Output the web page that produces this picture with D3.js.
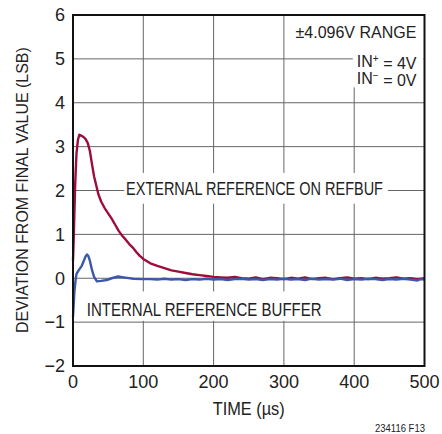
<!DOCTYPE html>
<html>
<head>
<meta charset="utf-8">
<script src="https://cdn.jsdelivr.net/npm/d3@7"></script>
<style>
  body { margin: 0; background: #fff; }
  svg text { font-family: "Liberation Sans", Arial, sans-serif; fill: #222; }
</style>
</head>
<body>
<div id="chart"></div>
<script>
// time axis (µs) and tick labels
var xTicks = [0, 100, 200, 300, 400, 500];
var yTicks = [-2, -1, 0, 1, 2, 3, 4, 5, 6];

// external reference on REFBUF (red trace)
var extTime = [0, 1, 2, 3, 4, 5, 7, 9, 12, 15, 18, 21, 24, 27, 30, 33, 36, 40, 45, 50, 55, 60, 65, 70, 75, 80, 85, 90, 95, 100,
  110, 120, 130, 140, 150, 160, 170, 180, 190, 200,
  210, 220, 230, 240, 250, 260, 270, 280, 290, 300, 310, 320, 330, 340, 350, 360, 370, 380, 390, 400,
  410, 420, 430, 440, 450, 460, 470, 480, 490, 500];
var extValue = [0.4, 0.9, 1.5, 2.1, 2.5, 2.85, 3.15, 3.27, 3.25, 3.22, 3.17, 3.08, 2.9, 2.6, 2.32, 2.12, 1.92, 1.75, 1.6, 1.48, 1.36, 1.22, 1.08, 0.97, 0.88, 0.78, 0.7, 0.6, 0.51, 0.44,
  0.34, 0.28, 0.23, 0.18, 0.15, 0.12, 0.09, 0.07, 0.05, 0.03,
  0.02, 0.01, 0.03, 0.0, -0.01, 0.02, -0.02, 0.01, 0.0, -0.02, 0.01, -0.01, 0.02, -0.02, 0.0, 0.01, -0.02, 0.0, 0.02, -0.01,
  0.0, -0.02, 0.01, -0.01, 0.0, 0.02, -0.01, 0.0, -0.02, 0.0];

// internal reference buffer (blue trace)
var intTime = [0, 2, 4, 5, 8, 12, 15, 18, 20, 22, 24, 27, 30, 34, 40, 48, 55, 64, 72, 86, 100,
  110, 120, 130, 140, 150, 160, 170, 180, 190, 200, 210, 220, 230, 240, 250, 260, 270, 280, 290, 300,
  310, 320, 330, 340, 350, 360, 370, 380, 390, 400, 410, 420, 430, 440, 450, 460, 470, 480, 490, 495, 500];
var intValue = [-0.88, -0.3, 0.0, 0.1, 0.18, 0.27, 0.38, 0.5, 0.54, 0.5, 0.4, 0.19, 0.03, -0.07, -0.06, -0.04, 0.0, 0.04, 0.02, -0.01, -0.02,
  -0.02, -0.03, -0.01, -0.03, -0.02, -0.04, -0.02, -0.03, -0.01, -0.03, -0.02, -0.04, -0.02, -0.01, -0.03, -0.02, -0.04, -0.02, -0.03, -0.01,
  -0.03, -0.02, -0.04, -0.01, -0.03, -0.02, -0.03, -0.01, -0.04, -0.02, -0.03, -0.01, -0.02, -0.04, -0.02, -0.03, -0.01, -0.03, -0.05, -0.02, -0.03];

var margin = { top: 15, right: 17.5, bottom: 68, left: 73 },
  width = 442 - margin.left - margin.right,
  height = 434 - margin.top - margin.bottom;

var svg = d3.select("#chart").append("svg")
  .attr("width", 442)
  .attr("height", 434);

var g = svg.append("g")
  .attr("transform", "translate(" + margin.left + "," + margin.top + ")");

var x = d3.scaleLinear().domain([0, 500]).range([0, width]);
var y = d3.scaleLinear().domain([-2, 6]).range([height, 0]);

// grid
g.append("g").selectAll("line").data(xTicks.slice(1, -1)).enter().append("line")
  .attr("x1", function (d) { return x(d); }).attr("x2", function (d) { return x(d); })
  .attr("y1", 0).attr("y2", height)
  .attr("stroke", "#666").attr("stroke-width", 1);
g.append("g").selectAll("line").data(yTicks.slice(1, -1)).enter().append("line")
  .attr("x1", 0).attr("x2", width)
  .attr("y1", function (d) { return y(d); }).attr("y2", function (d) { return y(d); })
  .attr("stroke", "#666").attr("stroke-width", 1);

// white boxes behind the labels
function box(x0, y0, w, h) {
  g.append("rect").attr("x", x0).attr("y", y0).attr("width", w).attr("height", h).attr("fill", "#fff");
}
box(x(73), y(2.4), x(448) - x(73), y(1.7) - y(2.4));
box(x(18), y(-0.3), x(355) - x(18), y(-0.97) - y(-0.3));
box(x(398), 1, width - x(398) - 1, y(4.35) - 1);

// traces
var line = d3.line()
  .x(function (d) { return x(d[0]); })
  .y(function (d) { return y(d[1]); });

g.append("path")
  .datum(extTime.map(function (t, i) { return [t, extValue[i]]; }))
  .attr("d", line)
  .attr("fill", "none")
  .attr("stroke", "#9c0d3c")
  .attr("stroke-width", 2.4)
  .attr("stroke-linejoin", "round");

g.append("path")
  .datum(intTime.map(function (t, i) { return [t, intValue[i]]; }))
  .attr("d", line)
  .attr("fill", "none")
  .attr("stroke", "#3a59aa")
  .attr("stroke-width", 2.4)
  .attr("stroke-linejoin", "round");

// frame
g.append("rect").attr("x", 0).attr("y", 0).attr("width", width).attr("height", height)
  .attr("fill", "none").attr("stroke", "#111").attr("stroke-width", 2);

// tick labels
g.append("g").selectAll("text").data(yTicks).enter().append("text")
  .attr("x", -8).attr("y", function (d) { return y(d); })
  .attr("dy", "0.35em")
  .attr("text-anchor", "end")
  .style("font-size", "18px")
  .text(function (d) { return d < 0 ? "\u2212" + Math.abs(d) : d; });

g.append("g").selectAll("text").data(xTicks).enter().append("text")
  .attr("x", function (d) { return x(d); }).attr("y", height + 16)
  .attr("dy", "0.35em")
  .attr("text-anchor", "middle")
  .style("font-size", "18px")
  .text(function (d) { return d; });

// text squeezed horizontally to the narrow face of the original
function narrow(parent, str, px, x0, y0, len, rot) {
  var t = parent.append("text")
    .attr("dy", "0.35em")
    .style("font-size", px + "px")
    .text(str);
  var s = len / t.node().getComputedTextLength();
  t.attr("transform", "translate(" + x0 + "," + y0 + ")" + (rot ? " rotate(" + rot + ")" : "") + " scale(" + s + ",1)");
  return t;
}

// axis titles
narrow(g, "TIME (\u00b5s)", 18, x(250) - 36, height + 43, 72);
narrow(svg, "DEVIATION FROM FINAL VALUE (LSB)", 17, 22.5, 333, 286, -90);
narrow(svg, "234116 F13", 11, 375, 428, 50);

// annotations
narrow(g, "EXTERNAL REFERENCE ON REFBUF", 18, x(75.5), y(2.05), 257);
narrow(g, "INTERNAL REFERENCE BUFFER", 18, x(19.5), y(-0.72), 235);
narrow(g, "\u00b14.096V RANGE", 17, width - 8 - 121, 32 - margin.top, 121);

function inLine(sign, rest, yy) {
  var t = g.append("text")
    .attr("x", width - 8).attr("y", yy - margin.top)
    .attr("dy", "0.35em")
    .attr("text-anchor", "end")
    .style("font-size", "16px");
  t.append("tspan").text("IN");
  t.append("tspan").attr("dy", "-0.45em").style("font-size", "10px").text(sign);
  t.append("tspan").attr("dy", "0.45em").text(" = " + rest);
}
inLine("+", "4V", 61);
inLine("\u2212", "0V", 78);
</script>
</body>
</html>
